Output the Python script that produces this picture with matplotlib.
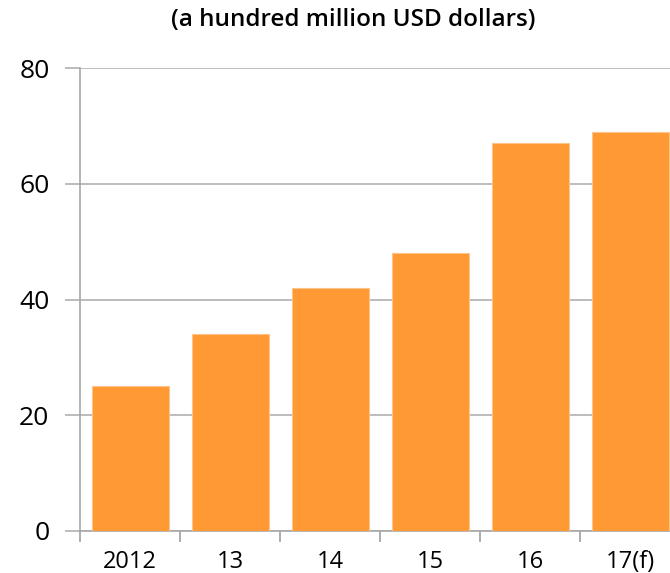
import matplotlib
matplotlib.use("Agg")
import matplotlib.pyplot as plt

years = ["2012", "13", "14", "15", "16", "17(f)"]
values = [25, 34, 42, 48, 67, 69]
y_ticks = [0, 20, 40, 60, 80]

plt.rcParams['font.family'] = ['Open Sans', 'DejaVu Sans']

fig = plt.figure(figsize=(6.70, 5.73), dpi=100)
W, H = 670, 573
left, right = 80, 680
top, bottom = 68, 531
ax = fig.add_axes([left / W, 1 - bottom / H, (right - left) / W, (bottom - top) / H])

x = range(len(years))
ax.bar(x, values, width=0.77, color="#FF9933", edgecolor="#FFC48A", linewidth=0.8, zorder=3)

ax.set_xlim(-0.5, len(years) - 0.5)
ax.set_ylim(0, 80)
ax.set_yticks(y_ticks)
ax.set_yticklabels([str(v) for v in y_ticks], fontsize=19)
ax.yaxis.grid(True, color="#B0B0B0", linewidth=1.2, zorder=0)

ax.set_xticks(list(x))
ax.set_xticklabels(years, fontsize=17)
ax.set_xticks([i - 0.5 for i in range(len(years) + 1)], minor=True)
ax.tick_params(axis="x", which="major", length=0, pad=14)
ax.tick_params(axis="x", which="minor", length=8, width=1.2, color="#A0A0A0")
ax.tick_params(axis="y", length=11, width=1.2, color="#B0B0B0", pad=11)

for s in ["top", "right"]:
    ax.spines[s].set_visible(False)
for s in ["left", "bottom"]:
    ax.spines[s].set_color("#A8A8A8")
    ax.spines[s].set_linewidth(1.2)

fig.text(353 / W, 1 - 20 / H, "(a hundred million USD dollars)", ha="center", va="center",
         fontsize=17.5, fontweight="semibold")

fig.savefig("out.png", dpi=100)
